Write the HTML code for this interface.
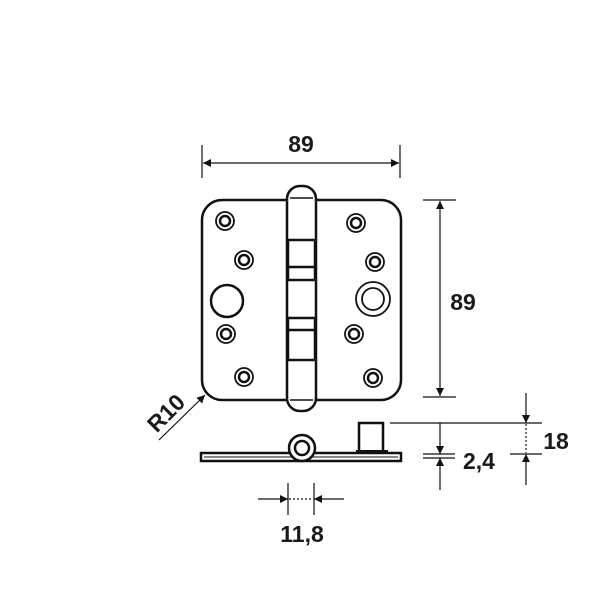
<!DOCTYPE html>
<html><head><style>body{margin:0;background:#fff}svg{display:block}text{font-family:"Liberation Sans",sans-serif;font-weight:bold;fill:#1a1a1a}</style></head>
<body>
<svg width="600" height="600" viewBox="0 0 600 600" xmlns="http://www.w3.org/2000/svg">
<defs>
<marker id="a" viewBox="0 0 10 10" refX="10" refY="5" markerWidth="10" markerHeight="7" markerUnits="userSpaceOnUse" orient="auto-start-reverse"><path d="M0,0L10,5L0,10z" fill="#111"/></marker>
<marker id="b" viewBox="0 0 10 10" refX="10" refY="5" markerWidth="14" markerHeight="8" markerUnits="userSpaceOnUse" orient="auto-start-reverse"><path d="M0,0L10,5L0,10z" fill="#111"/></marker>
</defs>
<g stroke="#111" fill="none">
<rect x="202" y="200" width="199" height="200" rx="20" stroke-width="2.5" fill="#fff"/>
<rect x="287" y="186" width="29" height="225" rx="13" stroke-width="2.5" fill="#fff"/>
<line x1="290" y1="198" x2="313" y2="198" stroke-width="1.5"/>
<line x1="290" y1="400" x2="313" y2="400" stroke-width="1.5"/>
<rect x="288" y="240" width="27" height="40" stroke-width="2.5"/>
<line x1="288" y1="267" x2="315" y2="267" stroke-width="2.5"/>
<rect x="288" y="318" width="27" height="42" stroke-width="2.5"/>
<line x1="288" y1="330" x2="315" y2="330" stroke-width="2.5"/>
<g stroke-width="1.8">
<circle cx="225" cy="221" r="9"/><circle cx="225" cy="221" r="5" stroke-width="2.5"/>
<circle cx="244" cy="260" r="9"/><circle cx="244" cy="260" r="5" stroke-width="2.5"/>
<circle cx="226" cy="334" r="9"/><circle cx="226" cy="334" r="5" stroke-width="2.5"/>
<circle cx="244" cy="377" r="9"/><circle cx="244" cy="377" r="5" stroke-width="2.5"/>
<circle cx="356" cy="223" r="9"/><circle cx="356" cy="223" r="5" stroke-width="2.5"/>
<circle cx="375" cy="262" r="9"/><circle cx="375" cy="262" r="5" stroke-width="2.5"/>
<circle cx="354" cy="334" r="9"/><circle cx="354" cy="334" r="5" stroke-width="2.5"/>
<circle cx="373" cy="378" r="9"/><circle cx="373" cy="378" r="5" stroke-width="2.5"/>
<circle cx="227" cy="301" r="16" stroke-width="2.5"/>
<circle cx="373" cy="299" r="17" stroke-width="1.8"/><circle cx="373" cy="299" r="11" stroke-width="1.8"/>
</g>
<rect x="201" y="453" width="200" height="8" stroke-width="2.5"/>
<line x1="204" y1="457" x2="398" y2="457" stroke-width="1"/>
<circle cx="302" cy="448" r="13" stroke-width="2.5" fill="#fff"/>
<circle cx="302" cy="448" r="7" stroke-width="2.5"/>
<rect x="359" y="423" width="24" height="29" stroke-width="2.5" fill="#fff"/>
<rect x="356" y="450" width="32" height="3" fill="#111" stroke="none"/>
<g stroke-width="1.2">
<line x1="202" y1="145" x2="202" y2="178"/><line x1="400" y1="145" x2="400" y2="178"/>
<line x1="203" y1="163" x2="399" y2="163" marker-start="url(#b)" marker-end="url(#b)"/>
<line x1="423" y1="200" x2="456" y2="200"/><line x1="423" y1="397" x2="456" y2="397"/>
<line x1="440" y1="201" x2="440" y2="396" marker-start="url(#b)" marker-end="url(#b)"/>
<line x1="159" y1="440" x2="205" y2="395" marker-end="url(#b)"/>
<line x1="390" y1="423" x2="542" y2="423"/>
<line x1="440" y1="423" x2="440" y2="454" marker-end="url(#b)"/>
<line x1="423" y1="454" x2="455" y2="454"/><line x1="423" y1="458" x2="455" y2="458"/>
<line x1="440" y1="490" x2="440" y2="458" marker-end="url(#b)"/>
<line x1="526" y1="393" x2="526" y2="423" marker-end="url(#b)"/>
<line x1="526" y1="424" x2="526" y2="453" stroke-dasharray="2,2"/>
<line x1="510" y1="454" x2="542" y2="454"/>
<line x1="526" y1="485" x2="526" y2="454" marker-end="url(#b)"/>
<line x1="288" y1="483" x2="288" y2="515"/><line x1="314" y1="483" x2="314" y2="515"/>
<line x1="258" y1="499" x2="288" y2="499" marker-end="url(#b)"/>
<line x1="344" y1="499" x2="314" y2="499" marker-end="url(#b)"/>
<line x1="289" y1="499" x2="313" y2="499" stroke-dasharray="2,2"/>
</g>
</g>
<text x="301" y="152" font-size="23" text-anchor="middle">89</text>
<text x="463" y="310" font-size="23" text-anchor="middle">89</text>
<text x="556" y="449" font-size="23" text-anchor="middle">18</text>
<text x="479" y="469" font-size="23" text-anchor="middle">2,4</text>
<text x="302" y="542" font-size="23" text-anchor="middle">11,8</text>
<text x="166" y="421" font-size="23" text-anchor="middle" transform="rotate(-45 166 413)">R10</text>
</svg>
</body></html>
